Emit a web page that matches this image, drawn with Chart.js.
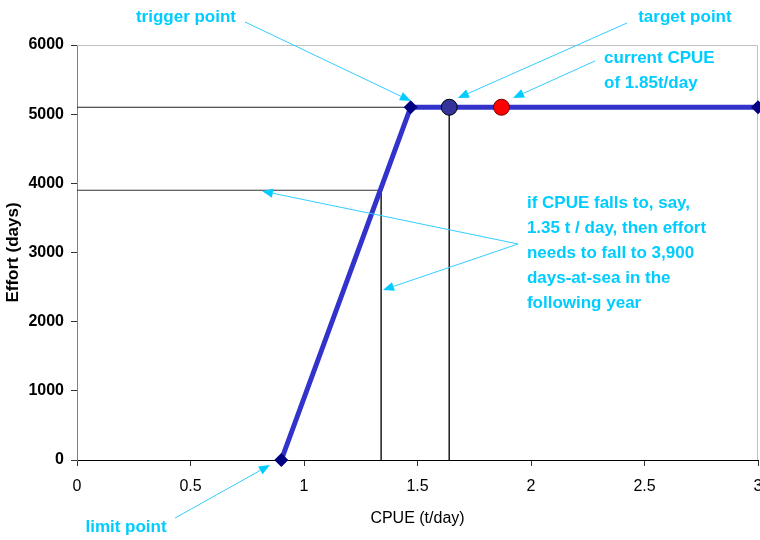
<!DOCTYPE html>
<html>
<head>
<meta charset="utf-8">
<script src="https://cdn.jsdelivr.net/npm/chart.js@4"></script>
<style>
  html, body { margin: 0; padding: 0; background: #fff; }
  #chart { display: block; }
</style>
</head>
<body>
<canvas id="chart" width="760" height="540"></canvas>
<script>
// harvest control rule: CPUE (t/day) vs effort (days)
const ruleCpue = [0.9, 1.47, 3];
const ruleEffort = [0, 5100, 5100];

const targetCpue = [1.64];
const targetEffort = [5100];
const currentCpue = [1.87];
const currentEffort = [5100];

// reference lines: target effort and the "falls to 1.35" example
const targetLineCpue = [0, 1.64, 1.64];
const targetLineEffort = [5100, 5100, 0];
const exampleLineCpue = [0, 1.34, 1.34];
const exampleLineEffort = [3900, 3900, 0];

const xTickLabels = ['0', '0.5', '1', '1.5', '2', '2.5', '3'];
const yTickLabels = ['0', '1000', '2000', '3000', '4000', '5000', '6000'];

const FONT = '"Liberation Sans", Arial, sans-serif';
const CYAN = '#00ccff';

// arrows: from [x, y] to [x, y] in data units
const arrows = [
  { from: [0.74, 6333], to: [1.471, 5190] },
  { from: [2.423, 6318], to: [1.678, 5234] },
  { from: [2.282, 5769], to: [1.921, 5234] },
  { from: [0.432, -839], to: [0.85, -72] },
  { from: [1.943, 3123], to: [0.815, 3889] },
  { from: [1.943, 3123], to: [1.348, 2458] }
];

const notes = [
  { at: [0.48, 6405], align: 'center', lines: ['trigger point'] },
  { at: [2.678, 6405], align: 'center', lines: ['target point'] },
  { at: [2.322, 5812], align: 'left', lines: ['current CPUE', 'of 1.85t/day'] },
  { at: [0.216, -969], align: 'center', lines: ['limit point'] },
  { at: [1.982, 3716], align: 'left', lines: ['if CPUE falls to, say,', '1.35 t / day, then effort', 'needs to fall to 3,900', 'days-at-sea in the', 'following year'] }
];

const pts = (xs, ys) => xs.map((x, i) => ({ x, y: ys[i] }));

const frame = {
  id: 'frame',
  beforeDatasetsDraw(chart) {
    const { ctx, chartArea: a } = chart;
    ctx.save();
    ctx.strokeStyle = '#c0c0c0';
    ctx.lineWidth = 1;
    ctx.beginPath();
    ctx.moveTo(a.left, a.top + 0.5);
    ctx.lineTo(a.right - 0.5, a.top + 0.5);
    ctx.lineTo(a.right - 0.5, a.bottom);
    ctx.stroke();
    ctx.restore();
  }
};

const callouts = {
  id: 'callouts',
  afterDraw(chart) {
    const { ctx } = chart;
    const xs = chart.scales.x, ys = chart.scales.y;
    const px = p => [xs.getPixelForValue(p[0]), ys.getPixelForValue(p[1])];
    ctx.save();
    arrows.forEach(a => {
      const [x1, y1] = px(a.from), [x2, y2] = px(a.to);
      const ang = Math.atan2(y2 - y1, x2 - x1);
      const len = 11, half = 4.5;
      const bx = x2 - len * Math.cos(ang), by = y2 - len * Math.sin(ang);
      ctx.strokeStyle = '#33ccff';
      ctx.lineWidth = 1;
      ctx.beginPath();
      ctx.moveTo(x1, y1);
      ctx.lineTo(bx, by);
      ctx.stroke();
      ctx.fillStyle = CYAN;
      ctx.beginPath();
      ctx.moveTo(x2, y2);
      ctx.lineTo(bx + half * Math.sin(ang), by - half * Math.cos(ang));
      ctx.lineTo(bx - half * Math.sin(ang), by + half * Math.cos(ang));
      ctx.closePath();
      ctx.fill();
    });
    ctx.fillStyle = CYAN;
    ctx.font = 'bold 17px ' + FONT;
    ctx.textBaseline = 'middle';
    notes.forEach(n => {
      const [x, y] = px(n.at);
      ctx.textAlign = n.align;
      n.lines.forEach((t, i) => ctx.fillText(t, x, y + i * 25));
    });
    ctx.restore();
  }
};

new Chart(document.getElementById('chart'), {
  type: 'scatter',
  data: {
    datasets: [
      {
        data: pts(currentCpue, currentEffort),
        pointRadius: 8, pointBackgroundColor: '#ff0000',
        pointBorderColor: '#700000', pointBorderWidth: 1, order: 0
      },
      {
        data: pts(targetCpue, targetEffort),
        pointRadius: 8, pointBackgroundColor: '#333399',
        pointBorderColor: '#000000', pointBorderWidth: 1, order: 1
      },
      {
        data: pts(ruleCpue, ruleEffort),
        showLine: true, borderColor: '#3333cc', borderWidth: 5,
        pointStyle: 'rectRot', pointRadius: 3.5, pointBackgroundColor: '#000080',
        pointBorderColor: '#000080', order: 2, clip: false
      },
      {
        data: pts(targetLineCpue, targetLineEffort),
        showLine: true, borderColor: '#222222', borderWidth: 1,
        pointRadius: 0, order: 3
      },
      {
        data: pts(exampleLineCpue, exampleLineEffort),
        showLine: true, borderColor: '#333333', borderWidth: 1,
        pointRadius: 0, order: 4
      }
    ]
  },
  options: {
    responsive: false,
    animation: false,
    layout: { autoPadding: false, padding: { top: 45, right: 2, left: 0, bottom: 0 } },
    plugins: { legend: { display: false }, tooltip: { enabled: false } },
    scales: {
      x: {
        type: 'linear', min: 0, max: 3,
        afterFit: s => { s.height = 80; s.paddingLeft = 0; s.paddingRight = 0; },
        border: { color: '#000000', width: 1 },
        grid: { drawOnChartArea: false, tickLength: 6, color: '#333333' },
        ticks: {
          stepSize: 0.5, padding: 11, color: '#000000',
          font: { family: FONT, size: 16 },
          callback: (v, i) => xTickLabels[i]
        },
        title: {
          display: true, text: 'CPUE (t/day)', color: '#000000',
          font: { family: FONT, size: 16 }, padding: { top: 0, bottom: 12 }
        }
      },
      y: {
        type: 'linear', min: 0, max: 6000,
        afterFit: s => { s.width = 77; s.paddingTop = 0; s.paddingBottom = 0; },
        border: { color: '#808080', width: 1 },
        grid: { drawOnChartArea: false, tickLength: 6, color: '#333333' },
        ticks: {
          stepSize: 1000, padding: 7, color: '#000000',
          font: { family: FONT, size: 16, weight: 'bold' },
          callback: (v, i) => yTickLabels[i]
        },
        title: {
          display: true, text: 'Effort (days)', color: '#000000',
          font: { family: FONT, size: 17, weight: 'bold' }, padding: { top: 3, bottom: 0 }
        }
      }
    }
  },
  plugins: [frame, callouts]
});
</script>
</body>
</html>
